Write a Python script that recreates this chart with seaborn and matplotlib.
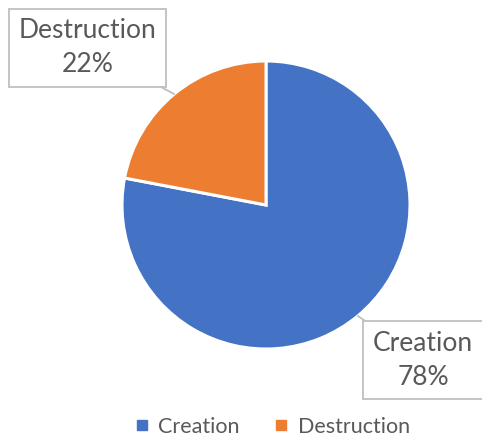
import numpy as np
import matplotlib
matplotlib.use("Agg")
import matplotlib.pyplot as plt
from matplotlib.lines import Line2D
import seaborn as sns

categories = ["Creation", "Destruction"]
shares = [78, 22]
colors = ["#4472C4", "#ED7D31"]

sns.set_theme(style="white")
plt.rcParams["font.family"] = ["Lato", "DejaVu Sans"]

W, H = 482, 440
fig = plt.figure(figsize=(W / 100, H / 100), dpi=100)
fig.patch.set_facecolor("white")

# Pie axes: centre (266, 205) px, radius 144 px
cx, cy, r = 266, 205, 144
ax = fig.add_axes([(cx - r) / W, (H - cy - r) / H, 2 * r / W, 2 * r / H])
wedges, _ = ax.pie(shares, colors=colors, startangle=90, counterclock=False,
                   radius=1.0, wedgeprops=dict(edgecolor="white", linewidth=2.2))
ax.set_xlim(-1, 1)
ax.set_ylim(-1, 1)
ax.set_aspect("equal")
ax.axis("off")

# Callout labels with leader lines
label_px = {"Creation": (423, 360), "Destruction": (87.5, 48)}
total = sum(shares)
for w, name, val in zip(wedges, categories, shares):
    mid = np.deg2rad((w.theta1 + w.theta2) / 2)
    pt = (np.cos(mid), np.sin(mid))
    tx, ty = label_px[name]
    ax.annotate(f"{name}\n{round(100 * val / total)}%", xy=pt,
                xytext=(tx / W, 1 - ty / H), textcoords="figure fraction",
                ha="center", va="center", fontsize=19, color="#595959",
                linespacing=1.45,
                bbox=dict(boxstyle="square,pad=0.36", fc="white", ec="#BFBFBF", lw=1.3),
                arrowprops=dict(arrowstyle="-", color="#BFBFBF", lw=1.3,
                                shrinkA=0, shrinkB=0))

handles = [Line2D([0], [0], marker="s", linestyle="", markersize=7,
                  markerfacecolor=c, markeredgecolor=c) for c in colors]
fig.legend(handles, categories, loc="center", bbox_to_anchor=(272 / W, 1 - 427 / H),
           ncol=2, frameon=False, fontsize=15.5, labelcolor="#595959",
           handlelength=0.7, handletextpad=0.4, columnspacing=1.6)

fig.savefig("out.png", dpi=100, facecolor="white")
